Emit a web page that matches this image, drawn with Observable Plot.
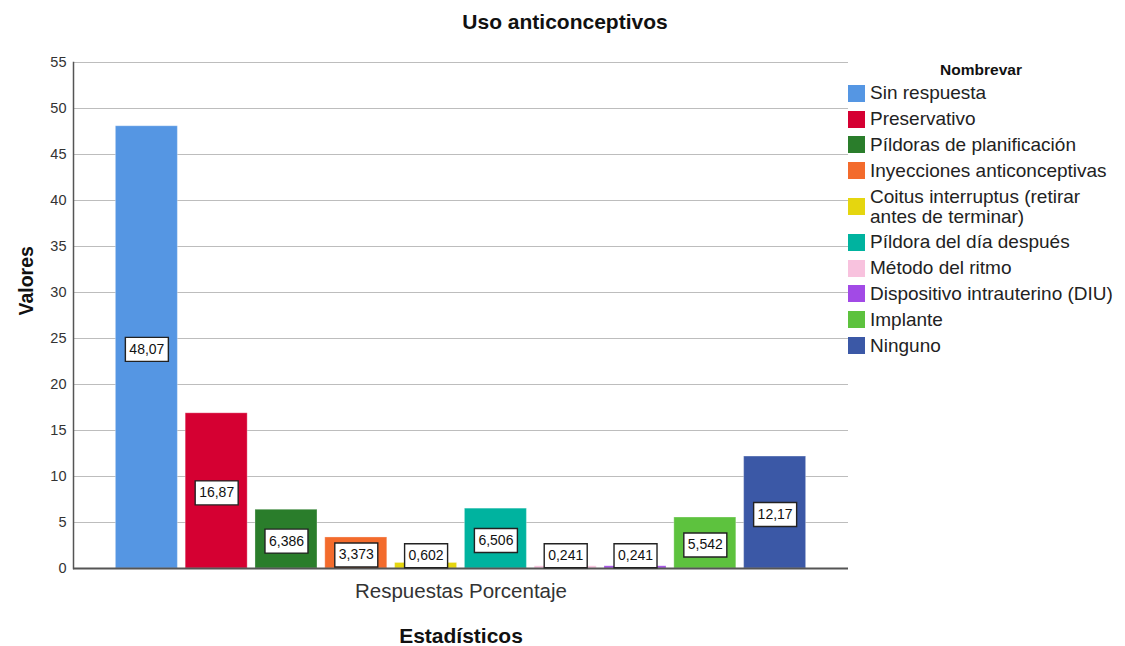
<!DOCTYPE html>
<html>
<head>
<meta charset="utf-8">
<script src="https://cdn.jsdelivr.net/npm/d3@7"></script>
<script src="https://cdn.jsdelivr.net/npm/@observablehq/plot@0.6"></script>
<style>
  body { margin: 0; background: #fff; font-family: "Liberation Sans", Arial, sans-serif; }
  #chart { position: relative; width: 1125px; height: 646px; overflow: hidden; background: #fff; }
  #chart svg { position: absolute; left: 0; top: 0; }
  #title { position: absolute; left: 0; width: 1130px; top: 11px; text-align: center;
           font-weight: bold; font-size: 21px; line-height: 21px; color: #111; }
  #legend { position: absolute; left: 848px; top: 0; width: 266px; color: #222; }
  #legend .head { position: absolute; left: 0; width: 266px; top: 61.6px; text-align: center;
                  font-weight: bold; font-size: 15.5px; line-height: 16px; color: #111; }
  #legend .items { position: absolute; left: 0; top: 83.4px; width: 277px; }
  #legend .item { display: flex; align-items: center; margin-bottom: 5.8px; }
  #legend .sw { width: 17px; height: 17px; flex: none; margin-right: 5px; }
  #legend .lab { font-size: 19px; line-height: 20px; white-space: nowrap; }
  #legend .lab.wrap { white-space: normal; width: 228px; }
</style>
</head>
<body>
<div id="chart">
  <div id="title">Uso anticonceptivos</div>
</div>
<script>
// Contraceptive use, share of responses (%)
const methods = [
  "Sin respuesta",
  "Preservativo",
  "Píldoras de planificación",
  "Inyecciones anticonceptivas",
  "Coitus interruptus (retirar antes de terminar)",
  "Píldora del día después",
  "Método del ritmo",
  "Dispositivo intrauterino (DIU)",
  "Implante",
  "Ninguno"
];
const percents = [48.07, 16.87, 6.386, 3.373, 0.602, 6.506, 0.241, 0.241, 5.542, 12.17];
const palette = ["#5596e3", "#d50032", "#2a7d2b", "#f36b2c", "#e5d60f",
                 "#00b39f", "#f8c2de", "#a24ae6", "#5dc23e", "#3b58a6"];
const yTicks = [0, 5, 10, 15, 20, 25, 30, 35, 40, 45, 50, 55];
const categoryLabel = "Respuestas Porcentaje";
const xTitle = "Estadísticos";
const yTitle = "Valores";
const legendTitle = "Nombrevar";

const rows = methods.map((name, i) => ({name, value: percents[i]}));

// Values are shown with a decimal comma, up to four significant digits
const fmt = v => d3.format(".4~r")(v).replace(".", ",");

// Rectangular callout behind each value label
const labelBox = { draw(ctx) { ctx.rect(-21.5, -12, 43, 24); } };
const labelY = d => Math.max(d.value / 2, 1.6);

const font = "'Liberation Sans', Arial, sans-serif";

const plot = Plot.plot({
  width: 860,
  height: 646,
  marginLeft: 73,
  marginRight: 12,
  marginTop: 62,
  marginBottom: 78,
  style: { fontFamily: font, fontSize: "14.5px", color: "#333", background: "transparent" },
  x: { domain: methods, paddingInner: 0.112, paddingOuter: 0.607, round: false, axis: null },
  y: { domain: [0, 55], ticks: yTicks, tickSize: 0, tickPadding: 7, label: null },
  color: { domain: methods, range: palette },
  marks: [
    Plot.ruleY(yTicks, { stroke: "#bdbdbd", strokeWidth: 1 }),
    Plot.barY(rows, { x: "name", y: "value", fill: "name", stroke: "white", strokeOpacity: 0.3, strokeWidth: 1 }),
    Plot.frame({ anchor: "left", stroke: "#555", strokeWidth: 1.5 }),
    Plot.ruleY([0], { stroke: "#555", strokeWidth: 1.8 }),
    Plot.dot(rows, { x: "name", y: labelY, symbol: labelBox, fill: "white", stroke: "#222", strokeWidth: 1.4, dy: 2 }),
    Plot.text(rows, { x: "name", y: labelY, text: d => fmt(d.value), fontSize: 14, fill: "#111", dy: 2 }),
    Plot.text([categoryLabel], { frameAnchor: "bottom", lineAnchor: "middle", dy: 23, fontSize: 20.5, fill: "#333" }),
    Plot.text([xTitle], { frameAnchor: "bottom", lineAnchor: "middle", dy: 68, fontSize: 21, fontWeight: "bold", fill: "#111" }),
    Plot.text([yTitle], { frameAnchor: "left", lineAnchor: "middle", dx: -47, rotate: -90, fontSize: 19.5, fontWeight: "bold", fill: "#111" })
  ]
});

const chart = document.getElementById("chart");
chart.appendChild(plot);

// Legend: swatches take their colours from the plot's color scale
const color = plot.scale("color");
const legend = d3.select(chart).append("div").attr("id", "legend");
legend.append("div").attr("class", "head").text(legendTitle);
const items = legend.append("div").attr("class", "items")
  .selectAll("div").data(methods).join("div").attr("class", "item");
items.append("div").attr("class", "sw").style("background", d => color.apply(d));
items.append("div").attr("class", d => d.length > 32 ? "lab wrap" : "lab").text(d => d);
</script>
</body>
</html>
